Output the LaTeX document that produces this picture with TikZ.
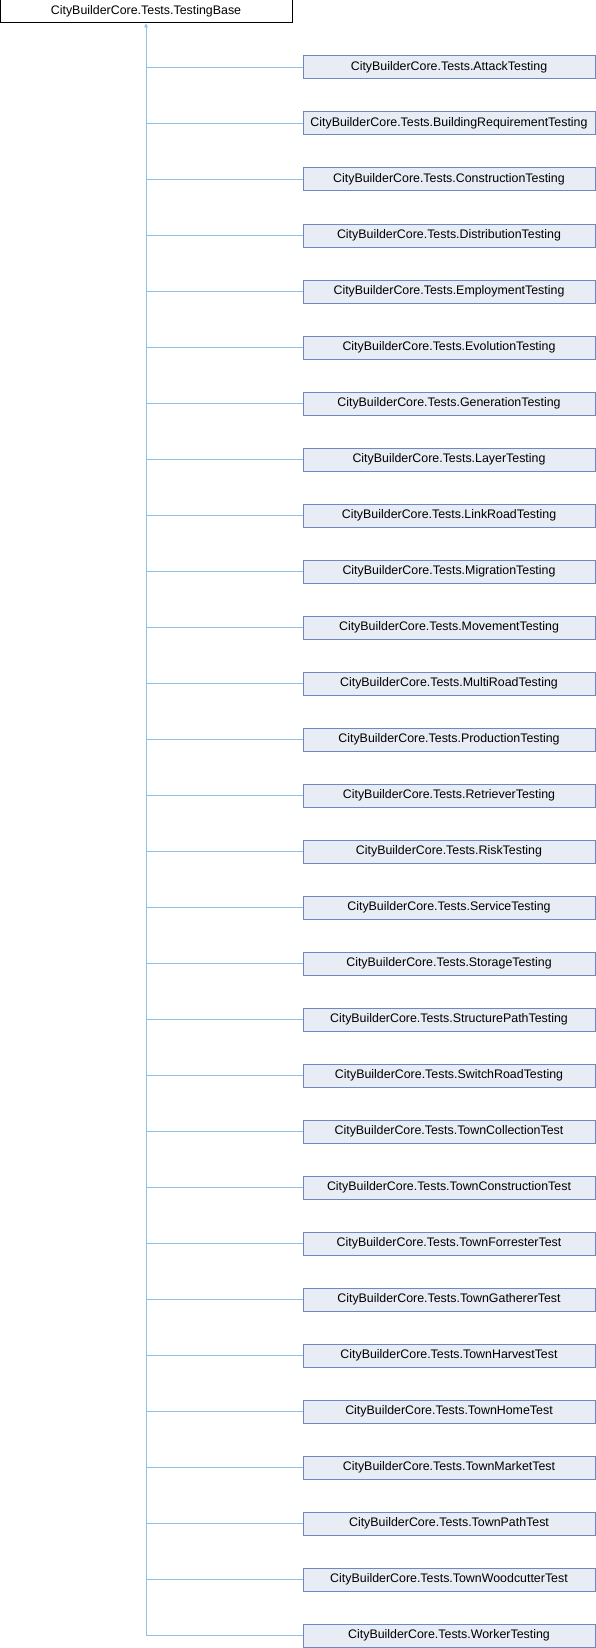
\documentclass[tikz,border=0pt]{standalone}
\usepackage{fontspec}
\setmainfont{Liberation Sans}
\usetikzlibrary{arrows.meta}

\definecolor{edgeblue}{HTML}{8CC4E8}
\definecolor{boxline}{HTML}{7088C0}
\definecolor{boxfill}{HTML}{E8ECF4}

\begin{document}
\begin{tikzpicture}[x=1pt,y=1pt,node distance=56pt,
      class node/.style={draw,line width=1pt,minimum width=292pt,minimum height=23pt,
        inner sep=0pt,font=\fontsize{12.4}{14}\selectfont},
      base node/.style={class node,draw=black},
      child node/.style={class node,draw=boxline,fill=boxfill},
      link/.style={draw=edgeblue,line width=1pt}]
    \useasboundingbox (0,0) rectangle (596,-1648);
    \node[base node] (base) at (146,-11.5) {CityBuilderCore.Tests.TestingBase};
    \coordinate (c0) at (449,-11.5);
    \foreach \cls [count=\i, remember=\i as \j (initially 0)] in
      {AttackTesting,BuildingRequirementTesting,ConstructionTesting,
       DistributionTesting,EmploymentTesting,EvolutionTesting,GenerationTesting,
       LayerTesting,LinkRoadTesting,MigrationTesting,MovementTesting,
       MultiRoadTesting,ProductionTesting,RetrieverTesting,RiskTesting,
       ServiceTesting,StorageTesting,StructurePathTesting,SwitchRoadTesting,
       TownCollectionTest,TownConstructionTest,TownForresterTest,
       TownGathererTest,TownHarvestTest,TownHomeTest,TownMarketTest,
       TownPathTest,TownWoodcutterTest,WorkerTesting}
    {
      \node[child node] (c\i) [below of=c\j] {CityBuilderCore.Tests.\cls};
      \draw[link] (base.south |- c\i.west) -- (c\i.west);
    }
    \coordinate (trunk) at (base.south |- c29.west);
    \draw[link,-{Triangle[open,length=4pt,width=4pt]}] (trunk) -- (base.south);
  \end{tikzpicture}
\end{document}
